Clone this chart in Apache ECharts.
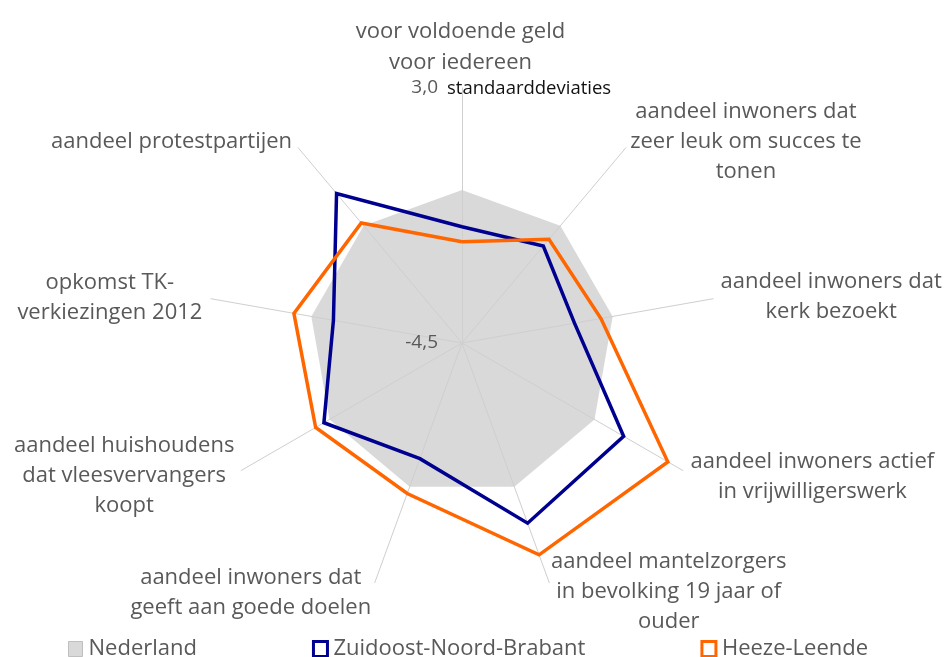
<!DOCTYPE html>
<html>
<head>
<meta charset="utf-8">
<script src="https://cdn.jsdelivr.net/npm/echarts@6/dist/echarts.min.js"></script>
<style>
  html, body { margin: 0; padding: 0; background: #ffffff; }
  #chart { width: 946px; height: 657px; }
</style>
</head>
<body>
<div id="chart"></div>
<script>
// Categories in clockwise order, starting at the top
const categories = [
  'voor voldoende geld\nvoor iedereen',
  'aandeel inwoners dat\nzeer leuk om succes te\ntonen',
  'aandeel inwoners dat\nkerk bezoekt',
  'aandeel inwoners actief\nin vrijwilligerswerk',
  'aandeel mantelzorgers\nin bevolking 19 jaar of\nouder',
  'aandeel inwoners dat\ngeeft aan goede doelen',
  'aandeel huishoudens\ndat vleesvervangers\nkoopt',
  'opkomst TK-\nverkiezingen 2012',
  'aandeel protestpartijen'
];
const seriesNames = ['Nederland', 'Zuidoost-Noord-Brabant', 'Heeze-Leende'];
const nederland = [0, 0, 0, 0, 0, 0, 0, 0, 0];
const zuidoostNoordBrabant = [-1.08, -0.78, -1.14, 0.99, 1.14, -0.88, 0.19, -0.66, 1.24];
const heezeLeende = [-1.52, -0.52, -0.35, 2.49, 2.13, 0.21, 0.47, 0.52, 0.11];
const axisMin = -4.5;
const axisMax = 3.0;
const tickLabels = ['-4,5', '3,0'];
const unitLabel = 'standaarddeviaties';

// label layout only: shift of each axis-name block centre relative to its axis end
const nameOffsets = [
  [-1.5, -40.5], [120, -6.4], [118, -2], [129.5, 6.2], [119.5, 9.6],
  [-124, 10], [-117, 5.6], [-101, -1.2], [-126.5, -6]
];
const nameLineHeights = [31, 30, 30, 30, 30, 30, 30, 30, 30];

// ECharts places indicators counter-clockwise; reorder to draw clockwise
const order = [0].concat(categories.map((_, i) => i).slice(1).reverse());
const reorder = arr => order.map(i => arr[i]);

function pad(ci) {
  const dx = nameOffsets[ci][0], dy = nameOffsets[ci][1];
  const h = categories[ci].split('\n').length * nameLineHeights[ci];
  return [dy - h / 2, Math.max(0, -2 * dx), 0, Math.max(0, 2 * dx)];
}

const indicators = order.map((ci, k) => ({
  name: categories[ci],
  min: axisMin,
  max: axisMax,
  nameGap: 0,
  nameMoveOverlap: false,
  nameTextStyle: {
    align: 'center',
    verticalAlign: 'top',
    lineHeight: nameLineHeights[ci],
    padding: pad(ci)
  },
  axisLabel: {
    show: k === 0,
    color: '#595959',
    fontFamily: 'Open Sans',
    fontSize: 19,
    margin: 24,
    formatter: v => (Math.abs(v - axisMin) < 1e-6 ? tickLabels[0] : tickLabels[1])
  }
}));

const chart = echarts.init(document.getElementById('chart'), null, { renderer: 'canvas' });
chart.setOption({
  backgroundColor: '#ffffff',
  animation: false,
  legend: {
    left: 63,
    top: 633,
    itemGap: 115,
    itemWidth: 14,
    itemHeight: 15,
    textStyle: { color: '#595959', fontFamily: 'Open Sans', fontSize: 22, padding: [0, 0, 0, 1] },
    data: [
      { name: seriesNames[0], icon: 'rect', itemStyle: { color: '#d9d9d9', borderColor: '#bfbfbf', borderWidth: 1 } },
      { name: seriesNames[1], icon: 'rect', itemStyle: { color: '#ffffff', borderColor: '#000090', borderWidth: 3 } },
      { name: seriesNames[2], icon: 'rect', itemStyle: { color: '#ffffff', borderColor: '#ff6600', borderWidth: 3 } }
    ]
  },
  radar: {
    center: [462, 343],
    radius: 255,
    startAngle: 90,
    splitNumber: 1,
    shape: 'polygon',
    axisNameGap: 0,
    axisName: { color: '#595959', fontFamily: 'Open Sans', fontSize: 22 },
    axisLine: { show: true, lineStyle: { color: '#cfcfcf', width: 1 } },
    axisTick: { show: false },
    splitLine: { show: false },
    splitArea: { show: false },
    indicator: indicators
  },
  graphic: [{
    type: 'text',
    left: 447,
    top: 79,
    style: { text: unitLabel, fill: '#111111', font: '18.5px "Open Sans"' },
    z: 10
  }],
  series: [
    {
      type: 'radar', name: seriesNames[0], z: -1, symbol: 'none', silent: true,
      itemStyle: { color: '#d9d9d9' },
      lineStyle: { width: 0, color: '#d9d9d9' },
      areaStyle: { color: '#d9d9d9', opacity: 1 },
      data: [{ value: reorder(nederland), name: seriesNames[0] }]
    },
    {
      type: 'radar', name: seriesNames[1], z: 3, symbol: 'none', silent: true,
      itemStyle: { color: '#000090' },
      lineStyle: { width: 3.5, color: '#000090', join: 'miter' },
      data: [{ value: reorder(zuidoostNoordBrabant), name: seriesNames[1] }]
    },
    {
      type: 'radar', name: seriesNames[2], z: 4, symbol: 'none', silent: true,
      itemStyle: { color: '#ff6600' },
      lineStyle: { width: 3.5, color: '#ff6600', join: 'miter' },
      data: [{ value: reorder(heezeLeende), name: seriesNames[2] }]
    }
  ]
});
</script>
</body>
</html>
